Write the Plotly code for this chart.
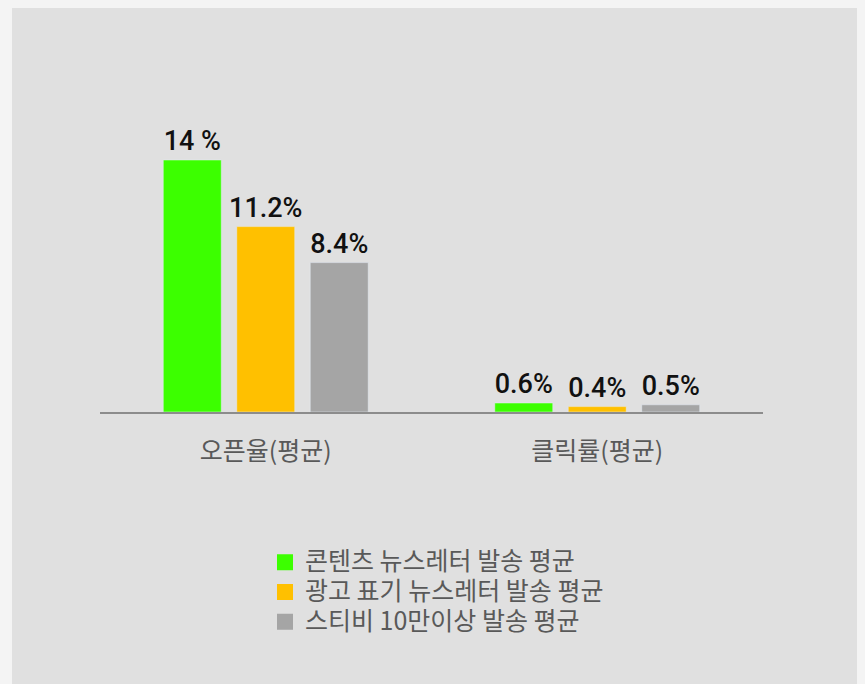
import plotly.graph_objects as go

categories = ["오픈율(평균)", "클릭률(평균)"]
series_names = ["콘텐츠 뉴스레터 발송 평균", "광고 표기 뉴스레터 발송 평균", "스티비 10만이상 발송 평균"]
values_content = [14.0, 0.5]
values_ad = [10.3, 0.3]
values_stibee = [8.3, 0.4]
labels_content = ["14 %", "0.6%"]
labels_ad = ["11.2%", "0.4%"]
labels_stibee = ["8.4%", "0.5%"]
colors = ["#3CFF00", "#FFC000", "#A5A5A5"]

W, H = 865, 684
L, R, T, B = 92, 110, 60, 280
pw, ph = W - L - R, H - T - B

fig = go.Figure()
for name, vals, labs, col in zip(series_names,
                                 [values_content, values_ad, values_stibee],
                                 [labels_content, labels_ad, labels_stibee],
                                 colors):
    fig.add_trace(go.Bar(
        x=categories, y=vals, name=name, marker_color=col,
        text=labs, textposition="outside", cliponaxis=False,
        constraintext="none",
        textfont=dict(family="Roboto", size=27, color="#111111", weight=500),
        showlegend=False,
    ))
    # legend entry (square swatch)
    fig.add_trace(go.Scatter(
        x=[None], y=[None], mode="markers", name=f'<span style="font-size:25px">{name}</span>',
        marker=dict(symbol="square", size=16, color=col, line_width=0),
        showlegend=True, hoverinfo="skip",
    ))

def px2paper_x(px):
    return (px - L) / pw

def py2paper_y(py):
    return (H - B - py) / ph

fig.add_shape(type="rect", xref="paper", yref="paper",
              x0=px2paper_x(4), x1=px2paper_x(852),
              y0=py2paper_y(720), y1=py2paper_y(-3),
              fillcolor="#E0E0E0", line_width=0, layer="below")

fig.update_layout(
    width=W, height=H,
    margin=dict(l=L, r=R, t=T, b=B),
    paper_bgcolor="#F4F4F4",
    plot_bgcolor="rgba(0,0,0,0)",
    barmode="group",
    bargap=0.335,
    bargroupgap=0.211,
    showlegend=True,
    legend=dict(
        x=px2paper_x(257), y=py2paper_y(534.5), xanchor="left", yanchor="top",
        bgcolor="rgba(0,0,0,0)",
        font=dict(family="Noto Sans CJK KR", size=20.5, color="#595959"),
        traceorder="normal",
    ),
    xaxis=dict(
        showline=True, linecolor="#8C8C8C", linewidth=2,
        ticks="", showgrid=False, zeroline=False,
        tickfont=dict(family="Noto Sans CJK KR", size=25, color="#595959"),
        ticklabelstandoff=16,
    ),
    yaxis=dict(
        range=[0, ph / 18.0], visible=False, showgrid=False, zeroline=False,
    ),
)

fig.write_html("out.html", post_script="document.body.style.background='#F4F4F4';")
